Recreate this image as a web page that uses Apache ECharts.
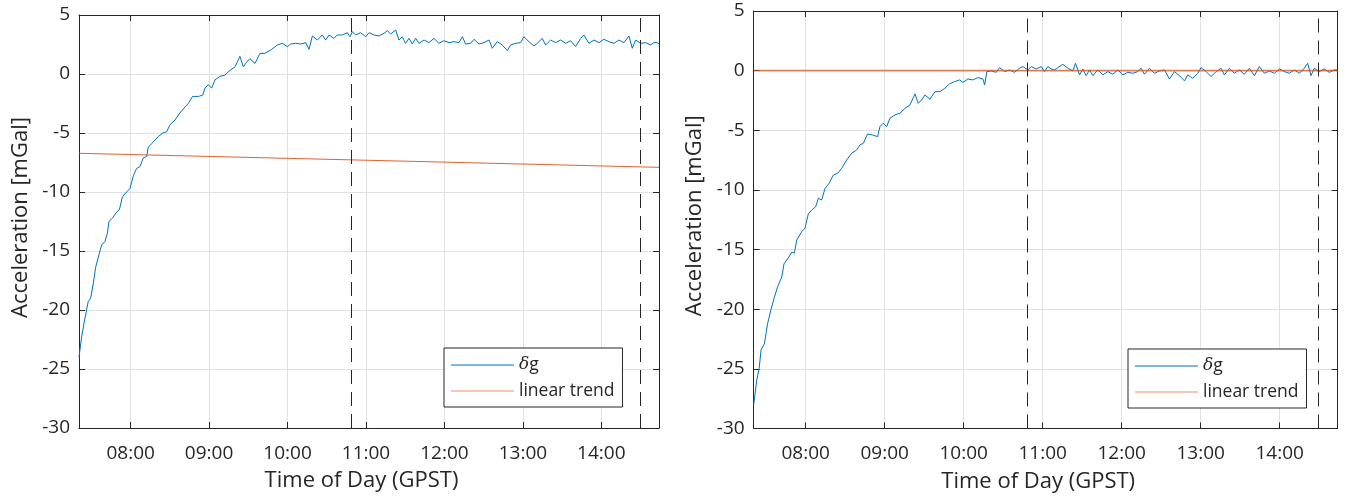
<!DOCTYPE html>
<html><head><meta charset="utf-8">
<script src="https://cdn.jsdelivr.net/npm/echarts@6/dist/echarts.min.js"></script>
<style>
html,body{margin:0;padding:0;background:#fff;}
#c1,#c2{position:absolute;top:0;width:673px;height:498px;}
#c1{left:0;} #c2{left:673px;}
</style>
</head><body>
<div id="c1"></div><div id="c2"></div>
<script>
// time in minutes of day (GPST)
const xMin = 440.5, xMax = 884.1;
const hourTicks = [480, 540, 600, 660, 720, 780, 840];
const cutTimes = [648.5, 869.5];
const yMin = -30, yMax = 5, yStep = 5;
const seriesNames = ['δg', 'linear trend'];

// left panel: delta g [time, mGal]
const leftDelta = [
 [440.5,-24.0],[442.5,-22.3],[444.5,-21.0],[446.3,-20.0],[447.5,-19.3],[449.4,-19.0],[451.5,-17.7],[453.2,-16.4],
 [455.3,-15.5],[457.8,-14.5],[460.3,-14.2],[462.2,-13.5],[463.4,-12.5],[466.2,-12.2],[469.3,-11.7],[471.4,-11.5],
 [473.7,-10.4],[476.9,-10.0],[479.5,-9.7],[482.1,-8.6],[484.6,-8.0],[487.1,-7.85],[489.7,-7.1],[492.2,-7.0],
 [493.5,-6.2],[496.1,-5.9],[498.6,-5.6],[501.2,-5.3],[504.5,-5.0],[507.5,-4.9],[510.1,-4.3],[513.9,-3.9],
 [517.7,-3.3],[521.5,-2.8],[524.1,-2.5],[527.4,-1.9],[531.8,-1.9],[535.1,-1.8],[536.8,-1.2],[539.4,-0.9],
 [541.9,-1.2],[544.5,-0.5],[548.3,-0.2],[552.1,-0.1],[555.9,0.3],[559.8,0.6],[563.6,1.5],[566.2,0.6],
 [568.7,1.0],[571.2,1.3],[575.1,0.9],[578.9,1.75],[582.7,1.75],[587.1,2.03],[592.2,2.46],[596.0,2.60],
 [599.8,2.32],[602.4,2.54],[606.2,2.60],[610.0,2.54],[613.9,2.66],[616.4,2.09],[619.0,3.22],[622.8,2.88],
 [626.6,3.31],[629.2,2.88],[631.7,3.31],[635.5,3.02],[638.1,3.31],[641.9,3.31],[645.7,3.50],[647.8,3.16],
 [649.6,3.59],[652.1,3.31],[655.9,3.50],[659.7,3.16],[662.3,3.50],[666.1,3.31],[669.9,3.22],[673.8,3.45],
 [676.3,3.67],[678.9,3.39],[682.7,3.73],[685.2,2.88],[687.8,3.16],[690.3,2.60],[692.9,3.02],[695.4,2.54],
 [698.0,3.02],[700.5,2.60],[704.4,2.88],[708.2,2.66],[712.0,3.02],[715.8,2.60],[719.6,2.82],[723.5,2.66],
 [727.3,2.74],[731.1,2.66],[733.7,3.16],[736.2,2.54],[740.0,2.60],[742.6,2.94],[746.4,2.54],[750.2,2.66],
 [754.1,2.88],[756.6,2.18],[760.4,2.74],[764.2,2.46],[768.1,1.98],[770.6,2.46],[774.5,2.60],[778.3,2.66],
 [780.8,3.16],[784.6,2.74],[788.5,2.37],[791.0,2.60],[794.8,3.02],[797.4,2.46],[801.2,2.88],[805.0,2.66],
 [808.9,2.88],[812.7,2.60],[816.5,2.82],[820.3,2.32],[824.2,3.02],[826.7,3.31],[830.5,2.60],[834.4,2.88],
 [838.2,2.66],[842.0,2.94],[845.8,2.74],[849.6,2.60],[853.5,2.88],[857.3,2.66],[861.1,3.22],[863.7,2.18],
 [866.2,2.88],[870.0,2.60],[873.9,2.66],[877.7,2.46],[880.2,2.66],[882.8,2.66],[884.1,2.55]
];
const leftTrend = [[440.5,-6.72],[884.1,-7.91]];

// right panel: delta g [time, mGal]
const rightDelta = [
 [440.5,-28.0],[442.8,-25.95],[444.6,-25.0],[446.1,-23.4],[448.6,-22.9],[451.1,-21.2],[453.7,-20.0],[456.2,-19.0],
 [458.7,-18.1],[461.8,-17.3],[463.5,-16.2],[466.8,-15.7],[469.4,-15.2],[471.4,-15.3],[473.2,-14.2],[477.0,-13.5],
 [479.5,-13.2],[482.0,-12.0],[484.5,-11.7],[487.6,-11.4],[489.6,-10.7],[492.1,-10.85],[494.7,-9.87],[497.7,-9.45],
 [501.0,-8.75],[504.3,-8.6],[507.3,-8.19],[511.1,-7.49],[514.9,-6.93],[518.7,-6.65],[521.2,-6.23],[523.8,-6.09],
 [527.0,-5.31],[530.6,-5.39],[534.6,-5.53],[536.4,-4.69],[538.9,-4.41],[541.5,-4.69],[544.0,-3.99],[547.8,-3.71],
 [551.6,-3.57],[555.4,-3.16],[559.2,-2.88],[563.0,-1.95],[565.5,-2.74],[568.0,-2.46],[570.6,-2.04],[574.4,-2.40],
 [578.2,-1.76],[581.9,-1.76],[585.7,-1.48],[589.3,-1.10],[593.1,-0.92],[596.9,-0.78],[599.4,-0.98],[603.2,-0.70],
 [607.0,-0.78],[610.8,-0.58],[614.6,-0.70],[615.9,-1.20],[617.6,-0.08],[620.9,-0.03],[624.7,-0.14],[627.3,0.25],
 [631.0,-0.08],[634.8,0.06],[638.6,-0.14],[642.4,0.20],[645.0,0.34],[648.8,0.06],[651.3,0.34],[655.1,0.14],
 [658.9,0.34],[661.4,-0.08],[663.9,0.34],[666.5,0.14],[669.0,0.06],[671.5,0.25],[675.3,0.53],[679.1,0.20],
 [682.9,-0.03],[684.9,0.62],[688.0,-0.36],[690.5,0.14],[693.0,-0.42],[695.6,0.06],[698.1,-0.42],[701.9,0.06],
 [705.7,-0.36],[709.5,-0.08],[713.3,-0.30],[717.1,0.06],[720.9,-0.36],[724.7,-0.14],[728.5,-0.22],[732.2,-0.08],
 [734.8,0.20],[737.3,-0.30],[741.1,0.20],[744.9,-0.22],[748.7,-0.03],[752.5,0.06],[756.3,-0.70],[760.1,-0.08],
 [763.9,-0.42],[767.7,-0.86],[770.2,-0.36],[774.0,-0.64],[777.8,-0.22],[780.3,0.25],[784.1,-0.08],[787.9,-0.50],
 [791.7,-0.08],[795.5,0.20],[798.0,-0.36],[801.8,0.20],[805.6,-0.22],[809.4,0.06],[813.2,-0.30],[817.0,0.20],
 [820.8,-0.42],[824.6,0.34],[828.4,-0.22],[832.2,-0.03],[836.0,-0.22],[839.8,0.14],[843.6,-0.08],[847.4,-0.22],
 [851.2,0.06],[855.0,-0.22],[858.7,0.20],[861.3,0.62],[863.8,-0.42],[866.3,0.20],[870.1,-0.08],[873.9,0.14],
 [877.7,-0.14],[881.5,0.06],[884.1,0.06]
];
const rightTrend = [[440.5,0.0],[884.1,0.0]];

const FONT = 'Open Sans';
const TXT = '#262626';
const AX = '#262626';
const GRIDC = '#e2e2e2';
const BLUE = '#0072BD';
const ORANGE = '#D95319';

function fmtTime(v) {
  const h = Math.floor(v / 60), m = Math.round(v - h * 60);
  return String(h).padStart(2, '0') + ':' + String(m).padStart(2, '0');
}

function makeOption(cfg) {
  const axLine = {show: true, onZero: false, lineStyle: {color: AX, width: 1}};
  return {
    animation: false,
    backgroundColor: '#fff',
    textStyle: {fontFamily: FONT},
    grid: {left: cfg.grid[0], top: cfg.grid[1], width: cfg.grid[2], height: cfg.grid[3], containLabel: false},
    legend: {
      orient: 'vertical', left: cfg.legend[0], top: cfg.legend[1],
      backgroundColor: '#fff', borderColor: AX, borderWidth: 1, borderRadius: 0,
      padding: [7, 8, 6, 7], itemWidth: 63, itemHeight: 1.2, itemGap: 6,
      icon: 'rect', itemStyle: {borderWidth: 0},
      selectedMode: false,
      data: seriesNames,
      formatter: n => n === 'δg' ? '{i|δ}{n|g}' : n,
      textStyle: {fontFamily: FONT, fontSize: 17.5, color: TXT, lineHeight: 20,
        rich: {
          i: {fontFamily: 'DejaVu Serif', fontStyle: 'italic', fontSize: 17, color: TXT, lineHeight: 20},
          n: {fontFamily: FONT, fontSize: 17.5, color: TXT, lineHeight: 20}
        }}
    },
    xAxis: [{
      type: 'value', min: xMin, max: xMax, position: 'bottom',
      name: 'Time of Day (GPST)', nameLocation: 'middle', nameGap: 42,
      nameTextStyle: {fontFamily: FONT, fontSize: 22, color: TXT, padding: [0, 15, 0, 0]},
      axisLine: axLine,
      axisTick: {show: true, inside: true, length: 6, customValues: hourTicks, lineStyle: {color: AX}},
      axisLabel: {show: true, customValues: hourTicks, formatter: fmtTime, fontFamily: FONT, fontSize: 19, color: TXT, margin: 16},
      splitLine: {show: true, lineStyle: {color: GRIDC, width: 1}}
    }, {
      type: 'value', min: xMin, max: xMax, position: 'top',
      axisLine: axLine,
      axisTick: {show: true, inside: true, length: 6, customValues: hourTicks, lineStyle: {color: AX}},
      axisLabel: {show: false},
      splitLine: {show: false}
    }],
    yAxis: [{
      type: 'value', min: yMin, max: yMax, interval: yStep, position: 'left',
      name: 'Acceleration [mGal]', nameLocation: 'middle', nameGap: cfg.yNameGap, nameRotate: 90,
      nameTextStyle: {fontFamily: FONT, fontSize: 22, color: TXT, padding: [0, 0, 0, 8]},
      axisLine: axLine,
      axisTick: {show: true, inside: true, length: 6, lineStyle: {color: AX}},
      axisLabel: {fontFamily: FONT, fontSize: 19, color: TXT, margin: 9, padding: [4, 0, 0, 0]},
      splitLine: {show: true, lineStyle: {color: GRIDC, width: 1}}
    }, {
      type: 'value', min: yMin, max: yMax, interval: yStep, position: 'right',
      axisLine: axLine,
      axisTick: {show: true, inside: true, length: 6, lineStyle: {color: AX}},
      axisLabel: {show: false},
      splitLine: {show: false}
    }],
    series: [{
      name: seriesNames[0], type: 'line', data: cfg.delta, xAxisIndex: 0, yAxisIndex: 0,
      symbol: 'none', showSymbol: false, smooth: false,
      lineStyle: {color: BLUE, width: 1}, itemStyle: {color: BLUE}, z: 2
    }, {
      name: seriesNames[1], type: 'line', data: cfg.trend, xAxisIndex: 0, yAxisIndex: 0,
      symbol: 'none', showSymbol: false,
      lineStyle: {color: ORANGE, width: cfg.trendWidth, opacity: cfg.trendOpacity}, itemStyle: {color: '#E8906A'}, z: 3,
      markLine: {
        silent: true, symbol: 'none', label: {show: false},
        lineStyle: {color: AX, type: [14, 8], width: 1, opacity: 1},
        data: cutTimes.map(t => ({xAxis: t}))
      }
    }]
  };
}

const c1 = echarts.init(document.getElementById('c1'), null, {renderer: 'canvas'});
c1.setOption(makeOption({grid: [79, 15, 580, 413], legend: [444, 348], yNameGap: 46, trendWidth: 1, trendOpacity: 0.9, delta: leftDelta, trend: leftTrend}));
const c2 = echarts.init(document.getElementById('c2'), null, {renderer: 'canvas'});
c2.setOption(makeOption({grid: [80.7, 11, 584, 417.5], legend: [455, 349], yNameGap: 47, trendWidth: 1.6, trendOpacity: 0.72, delta: rightDelta, trend: rightTrend}));
</script>
</body></html>
